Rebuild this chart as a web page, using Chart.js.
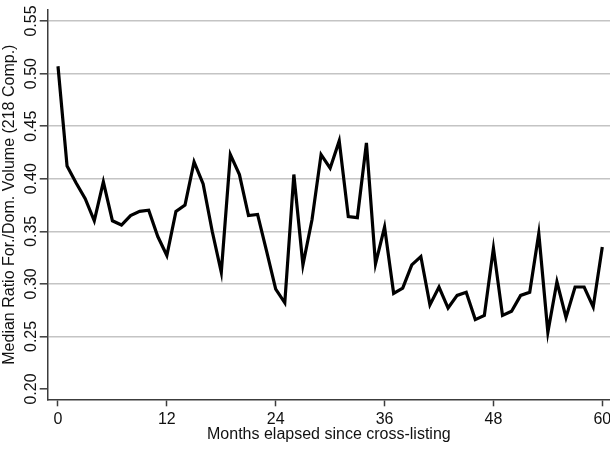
<!DOCTYPE html>
<html>
<head>
<meta charset="utf-8">
<script src="https://cdn.jsdelivr.net/npm/chart.js@4"></script>
<style>
  html, body { margin: 0; padding: 0; background: #fff; }
</style>
</head>
<body>
<canvas id="chart" width="610" height="449"></canvas>
<script>
// months since cross-listing
const months = [0, 1, 2, 3, 4, 5, 6, 7, 8, 9, 10, 11, 12, 13, 14, 15, 16, 17, 18, 19, 20,
  21, 22, 23, 24, 25, 26, 27, 28, 29, 30, 31, 32, 33, 34, 35, 36, 37, 38, 39, 40,
  41, 42, 43, 44, 45, 46, 47, 48, 49, 50, 51, 52, 53, 54, 55, 56, 57, 58, 59, 60];
// median ratio foreign/domestic volume
const ratio = [0.507, 0.412, 0.396, 0.381, 0.360, 0.397, 0.360, 0.356, 0.365, 0.369, 0.370,
  0.345, 0.327, 0.369, 0.375, 0.416, 0.395, 0.350, 0.311, 0.423, 0.404,
  0.365, 0.366, 0.331, 0.295, 0.282, 0.404, 0.318, 0.361, 0.423, 0.410,
  0.436, 0.364, 0.363, 0.434, 0.319, 0.354, 0.291, 0.296, 0.318, 0.326,
  0.280, 0.297, 0.277, 0.289, 0.292, 0.266, 0.270, 0.334, 0.270, 0.274,
  0.289, 0.292, 0.348, 0.254, 0.302, 0.268, 0.297, 0.297, 0.278, 0.335];
const xTicks = [0, 12, 24, 36, 48, 60];
const yTicks = [0.20, 0.25, 0.30, 0.35, 0.40, 0.45, 0.50, 0.55];

const FONT = '"Liberation Sans", Arial, sans-serif';
const axisColor = '#3c3c3c';

new Chart(document.getElementById('chart'), {
  type: 'line',
  data: {
    datasets: [{
      data: months.map((m, i) => ({ x: m, y: ratio[i] })),
      borderColor: '#000',
      borderWidth: 3.2,
      borderJoinStyle: 'miter',
      borderCapStyle: 'butt',
      pointRadius: 0,
      tension: 0,
      fill: false
    }]
  },
  options: {
    responsive: false,
    animation: false,
    devicePixelRatio: 1,
    layout: { padding: { top: 10, right: 0, bottom: 0, left: 0 } },
    plugins: { legend: { display: false }, tooltip: { enabled: false } },
    scales: {
      x: {
        type: 'linear',
        min: -1.135,
        max: 60.85,
        afterBuildTicks: s => { s.ticks = xTicks.map(v => ({ value: v })); },
        afterFit: s => { s.height = 49.7; s.paddingLeft = 0; s.paddingRight = 0; },
        grid: { drawOnChartArea: false, tickLength: 7, tickColor: axisColor, tickWidth: 1.5 },
        border: { color: axisColor, width: 1.5 },
        ticks: { color: '#111', padding: 4, font: { family: FONT, size: 16 } },
        title: {
          display: true,
          text: 'Months elapsed since cross-listing',
          color: '#111',
          font: { family: FONT, size: 16 },
          padding: { top: 0, bottom: 5 }
        }
      },
      y: {
        min: 0.1902,
        max: 0.5605,
        afterBuildTicks: s => { s.ticks = yTicks.map(v => ({ value: v })); },
        afterFit: s => { s.width = 47.7; s.paddingTop = 0; s.paddingBottom = 0; },
        grid: {
          color: c => (c.tick && c.tick.value < 0.21 ? 'rgba(0,0,0,0)' : '#c4c4c4'),
          lineWidth: 1.6,
          tickLength: 8,
          tickColor: axisColor,
          tickWidth: 1.5
        },
        border: { color: axisColor, width: 1.5 },
        ticks: {
          color: '#111',
          minRotation: 90,
          maxRotation: 90,
          crossAlign: 'center',
          padding: -7,
          font: { family: FONT, size: 16 },
          callback: v => v.toFixed(2)
        },
        title: {
          display: true,
          text: 'Median Ratio For./Dom. Volume (218 Comp.)',
          color: '#111',
          font: { family: FONT, size: 16 },
          padding: { top: 0, bottom: 0 }
        }
      }
    }
  }
});
</script>
</body>
</html>
